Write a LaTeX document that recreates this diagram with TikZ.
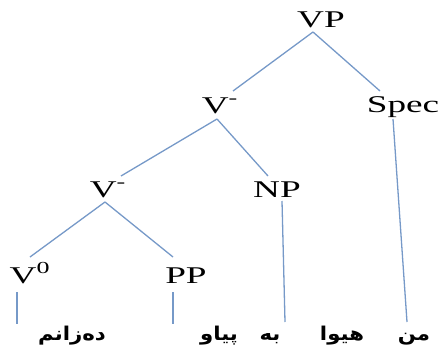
\documentclass[tikz,border=0pt]{standalone}
\usepackage{fontspec}
\setmainfont{Liberation Serif}
\newfontfamily\arabicfont[Script=Arabic]{DejaVu Sans}
\TeXXeTstate=1
\usetikzlibrary{calc}
\definecolor{branch}{RGB}{118,153,200}
\newcommand{\lab}[1]{\scalebox{1.55}[1]{#1}}
\newcommand{\kw}[1]{\scalebox{1.12}[1]{\arabicfont\bfseries\beginR #1\endR}}
\tikzset{
  cat/.style={inner sep=0pt, anchor=base, font=\fontsize{24}{28}\selectfont},
  word/.style={inner sep=0pt, anchor=base, font=\fontsize{19}{22}\selectfont},
  branchline/.style={draw=branch, line width=1.3pt}
}
\begin{document}
\begin{tikzpicture}[x=1pt,y=-1pt]
\useasboundingbox (0,0) rectangle (443,350);
% categories
\node[cat] (vp)   at (321,28)  {\lab{VP}};
\node[cat] (v1)   at (220,113) {\lab{V\textsuperscript{-}}};
\node[cat] (spec) at (403,112) {\lab{Spec}};
\node[cat] (v2)   at (108,197) {\lab{V\textsuperscript{-}}};
\node[cat] (np)   at (277,197) {\lab{NP}};
\node[cat] (v0)   at (30,283)  {\lab{V\textsuperscript{0}}};
\node[cat] (pp)   at (186,283) {\lab{PP}};
% words
\node[word] (w1) at (72,340)  {\kw{دەزانم}};
\node[word] (w2) at (219,340) {\kw{پیاو}};
\node[word] (w3) at (270,340) {\kw{به}};
\node[word] (w4) at (342,340) {\kw{هیوا}};
\node[word] (w5) at (414,340) {\kw{من}};
% branches
\draw[branchline] ($(vp.base)+(-8,4)$) -- ($(v1.base)+(13,-22)$);
\draw[branchline] ($(vp.base)+(-8,4)$) -- ($(spec.base)+(-23,-21)$);
\draw[branchline] ($(v1.base)+(-3,6)$) -- ($(v2.base)+(13,-21)$);
\draw[branchline] ($(v1.base)+(-3,6)$) -- ($(np.base)+(-9,-21)$);
\draw[branchline] ($(v2.base)+(-3,5)$) -- ($(v0.base)+(0,-26)$);
\draw[branchline] ($(v2.base)+(-3,5)$) -- ($(pp.base)+(-13,-26)$);
\draw[branchline] ($(np.base)+(5,4)$) -- ($(w3.base)+(15,-18)$);
\draw[branchline] ($(spec.base)+(-10,7)$) -- ($(w5.base)+(-7,-18)$);
\draw[branchline] ($(v0.base)+(-13,9)$) -- ($(v0.base)+(-13,41)$);
\draw[branchline] ($(pp.base)+(-13,9)$) -- ($(pp.base)+(-13,41)$);
\end{tikzpicture}
\end{document}
